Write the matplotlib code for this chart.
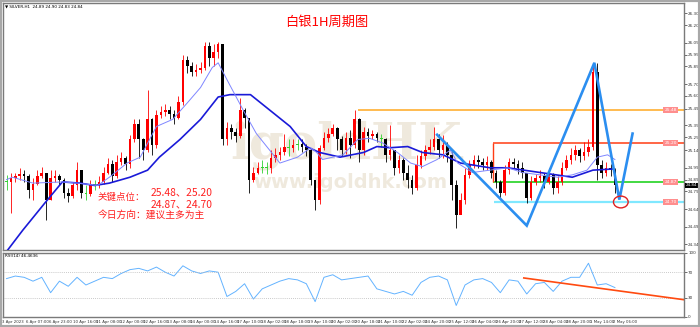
import numpy as np
import matplotlib
matplotlib.use('Agg')
import matplotlib.pyplot as plt
from matplotlib.patches import Ellipse, Rectangle

CJK = ['Noto Sans CJK SC', 'DejaVu Sans']

# 3-hour candles (hourly bar index = 3*i + 1)
close = [24.87, 24.90, 24.92, 24.94, 24.92, 24.80, 24.85, 24.92, 24.95, 24.72,
         24.90, 24.92, 24.89, 24.78, 24.75, 24.84, 24.97, 24.78, 24.77, 24.85,
         24.84, 24.87, 24.95, 25.02, 24.92, 25.04, 25.07, 25.02, 25.23, 25.36,
         25.23, 25.14, 25.40, 25.18, 25.44, 25.46, 25.48, 25.45, 25.41, 25.55,
         25.90, 25.85, 25.80, 25.82, 25.84, 26.02, 25.92, 25.97, 26.04, 25.23,
         25.33, 25.29, 25.26, 25.48, 25.41, 24.89, 24.95, 24.99, 25.00, 24.99,
         25.07, 25.10, 25.12, 25.17, 25.16, 25.18, 25.19, 25.17, 25.14, 24.89,
         24.72, 25.16, 25.24, 25.28, 25.33, 25.23, 25.14, 25.24, 25.18, 25.40,
         25.14, 25.29, 25.26, 25.28, 25.24, 25.23, 25.10, 25.14, 24.99, 25.06,
         24.95, 24.89, 24.82, 25.01, 25.09, 25.14, 25.17, 25.23, 25.14, 25.18,
         25.10, 24.84, 24.59, 24.72, 24.93, 25.01, 25.06, 25.04, 25.01, 25.04,
         24.95, 24.87, 24.78, 24.97, 25.04, 25.02, 24.99, 24.95, 24.73, 24.87,
         24.90, 24.92, 24.87, 24.94, 24.82, 24.87, 24.99, 25.06, 25.10, 25.14,
         25.09, 25.12, 25.17, 25.80, 25.01, 24.95, 24.99, 24.97, 24.84]
high = [24.93, 24.95, 24.95, 24.99, 24.97, 24.94, 24.90, 24.97, 25.00, 24.95,
        24.97, 24.97, 24.94, 24.90, 24.82, 24.87, 25.04, 24.97, 24.84, 24.89,
        24.89, 24.92, 25.00, 25.07, 25.06, 25.10, 25.12, 25.09, 25.27, 25.40,
        25.40, 25.24, 25.65, 25.41, 25.48, 25.51, 25.53, 25.51, 25.48, 25.60,
        25.95, 25.94, 25.89, 25.87, 25.89, 26.06, 26.06, 26.04, 26.06, 26.04,
        25.38, 25.36, 25.33, 25.58, 25.50, 25.41, 25.00, 25.04, 25.06, 25.04,
        25.14, 25.16, 25.17, 25.28, 25.23, 25.23, 25.23, 25.23, 25.19, 25.14,
        24.89, 25.18, 25.29, 25.33, 25.36, 25.34, 25.26, 25.29, 25.31, 25.48,
        25.41, 25.34, 25.33, 25.31, 25.29, 25.28, 25.24, 25.35, 25.14, 25.10,
        25.07, 25.01, 24.93, 25.10, 25.14, 25.18, 25.23, 25.34, 25.28, 25.27,
        25.21, 25.12, 24.89, 24.78, 24.99, 25.06, 25.10, 25.10, 25.07, 25.09,
        25.06, 24.97, 24.89, 25.01, 25.07, 25.07, 25.06, 25.04, 24.95, 24.92,
        24.94, 24.97, 24.95, 24.99, 24.95, 24.92, 25.04, 25.10, 25.16, 25.18,
        25.16, 25.21, 25.23, 25.85, 25.88, 25.06, 25.04, 25.02, 24.99]
low = [24.80, 24.61, 24.87, 24.89, 24.87, 24.73, 24.72, 24.84, 24.90, 24.55,
       24.72, 24.87, 24.84, 24.73, 24.70, 24.73, 24.80, 24.73, 24.72, 24.75,
       24.80, 24.82, 24.85, 24.94, 24.87, 24.90, 25.01, 24.97, 24.99, 25.21,
       25.07, 25.06, 25.12, 25.10, 25.16, 25.41, 25.43, 25.40, 25.36, 25.40,
       25.52, 25.79, 25.77, 25.77, 25.79, 25.82, 25.85, 25.85, 25.92, 25.18,
       25.18, 25.23, 25.21, 25.24, 25.33, 24.78, 24.87, 24.94, 24.95, 24.94,
       24.95, 25.04, 25.06, 25.10, 25.09, 25.12, 25.14, 25.12, 25.09, 24.84,
       24.63, 24.68, 25.14, 25.21, 25.26, 25.14, 25.09, 25.11, 25.07, 25.16,
       25.04, 25.10, 25.21, 25.23, 25.21, 25.17, 25.04, 25.06, 24.93, 24.95,
       24.89, 24.82, 24.77, 24.80, 24.99, 25.06, 25.11, 25.14, 25.07, 25.07,
       25.04, 24.72, 24.48, 24.63, 24.68, 24.90, 24.99, 24.99, 24.97, 24.97,
       24.90, 24.82, 24.73, 24.76, 24.94, 24.99, 24.94, 24.90, 24.69, 24.72,
       24.84, 24.87, 24.82, 24.85, 24.77, 24.78, 24.84, 24.97, 25.02, 25.06,
       25.04, 25.06, 25.09, 25.14, 24.89, 24.90, 24.92, 24.92, 24.78]
first_open = 24.88

# moving averages (hour bar, price)
ma_slow_bar = [1, 12, 27, 39, 51, 61, 71, 85, 97, 105, 119, 133, 145, 153, 167, 180, 194,
               205, 214, 228, 244, 253, 262, 274, 284, 298, 310, 330, 342, 364, 386, 400, 414]
ma_slow = [24.28, 24.46, 24.69, 24.87, 24.86, 24.84, 24.86, 24.91, 24.97, 25.08, 25.23,
           25.40, 25.59, 25.61, 25.61, 25.48, 25.34, 25.17, 25.12, 25.08, 25.12, 25.17,
           25.16, 25.17, 25.12, 25.10, 25.03, 24.99, 24.99, 24.95, 24.91, 24.97, 24.98]
ma_fast_bar = [1, 5, 19, 39, 49, 63, 71, 83, 92, 103, 114, 124, 133, 141, 145, 153, 162,
               171, 180, 187, 199, 208, 212, 216, 230, 240, 248, 257, 267, 276, 284, 294,
               303, 308, 318, 330, 342, 352, 364, 376, 386, 396, 403, 410, 415]
ma_fast = [24.89, 24.91, 24.86, 24.87, 24.86, 24.84, 24.91, 25.03, 25.08, 25.34, 25.40,
           25.54, 25.67, 25.84, 25.88, 25.69, 25.48, 25.28, 25.14, 25.03, 25.08, 25.16,
           25.12, 25.06, 25.10, 25.23, 25.24, 25.20, 25.12, 25.03, 25.00, 25.06, 25.14,
           25.03, 24.95, 24.97, 24.99, 24.95, 24.93, 24.91, 24.93, 24.97, 25.08, 25.10,
           25.06]

# RSI(14), every second candle
rsi = [60, 64, 62, 56, 62, 38, 56, 48, 62, 50,
       56, 62, 60, 68, 74, 76, 72, 78, 70, 64,
       80, 72, 68, 72, 70, 32, 40, 52, 28, 44,
       50, 56, 60, 58, 52, 24, 62, 66, 58, 60,
       62, 64, 44, 40, 36, 40, 34, 54, 62, 64,
       58, 18, 50, 58, 60, 54, 38, 58, 56, 36,
       52, 54, 40, 56, 62, 62, 84, 50, 52, 46]

# drawn objects
levels = [25.48, 25.20, 24.87, 24.70]
level_start = [240, 332, 332, 333]
level_colors = ['#ffa820', '#ff3c14', '#10d010', '#80e8ff']
wave_bar = [294, 355, 401, 418, 427]
wave_price = [25.27, 24.50, 25.88, 24.72, 25.28]
rsi_trend_bar = [353, 462]
rsi_trend = [61, 27]

price_ticks = [26.30, 26.20, 26.05, 25.95, 25.85, 25.70, 25.60, 25.49, 25.35, 25.25,
               25.14, 24.99, 24.89, 24.79, 24.64, 24.49, 24.34]
time_labels = ['3 Apr 2023', '6 Apr 07:00', '6 Apr 23:00', '10 Apr 16:00', '11 Apr 08:00',
               '12 Apr 00:00', '12 Apr 16:00', '13 Apr 08:00', '14 Apr 00:00', '14 Apr 16:00',
               '17 Apr 10:00', '18 Apr 02:00', '18 Apr 18:00', '19 Apr 10:00', '20 Apr 02:00',
               '20 Apr 18:00', '21 Apr 10:00', '22 Apr 02:00', '24 Apr 20:00', '25 Apr 12:00',
               '26 Apr 04:00', '26 Apr 20:00', '27 Apr 12:00', '28 Apr 04:00', '28 Apr 20:00',
               '1 May 14:00', '2 May 06:00']

W, H = 700, 327
fig = plt.figure(figsize=(7.0, 3.27), dpi=100)
fig.patch.set_facecolor('white')

ax = fig.add_axes([3 / W, 1 - 250 / H, 681 / W, 247 / H])
ax2 = fig.add_axes([3 / W, 1 - 317 / H, 681 / W, 64 / H])

xlim = (-1.4, 462)
for a in (ax, ax2):
    a.set_xlim(*xlim)
    a.set_facecolor('white')
    for s in a.spines.values():
        s.set_color('#7a7a7a')
        s.set_linewidth(1.0)
    a.tick_params(axis='x', bottom=False, labelbottom=False)
    a.yaxis.tick_right()
    a.tick_params(axis='y', length=2, width=0.5, colors='#333333', labelsize=3.0, pad=1)
ax.set_ylim(24.293, 26.387)

# watermark
ax.text(0.333, 0.37, 'igoldHK', transform=ax.transAxes, fontsize=36, family='DejaVu Serif',
        fontweight='bold', color='#efe9dd', zorder=0)
ax.text(0.368, 0.25, 'www.igoldhk.com', transform=ax.transAxes, fontsize=14,
        fontweight='bold', color='#efe9dd', zorder=0)

# candles
opens = [first_open] + close[:-1]
bars = np.arange(len(close)) * 3 + 1
for b, o, c, h, l in zip(bars, opens, close, high, low):
    if abs(c - o) < 0.012:
        col = '#30d030'
    elif c > o:
        col = '#ff0000'
    else:
        col = '#000000'
    ax.vlines(b, l, h, color=col, lw=0.6, zorder=3)
    ax.bar(b, max(abs(c - o), 0.006), bottom=min(o, c), width=1.8, color=col,
           linewidth=0, zorder=3)

ax.plot(ma_slow_bar, ma_slow, color='#1a1ad8', lw=1.2, zorder=4)
ax.plot(ma_fast_bar, ma_fast, color='#7f86ff', lw=0.7, zorder=4)

for p, s, col in zip(levels, level_start, level_colors):
    ax.hlines(p, s, xlim[1], color=col, lw=1.6 if p == 24.70 else 1.1, zorder=2)
    ax.text(453, p, f'{p:.2f}', fontsize=3.2, color='white', ha='center', va='center',
            zorder=6, bbox=dict(boxstyle='square,pad=0.25', fc='#ff8e8e', ec='none'))
ax.vlines(level_start[1], levels[2], levels[1], color=level_colors[1], lw=1.0, zorder=2)

ax.plot(wave_bar, wave_price, color='#2b8ef0', lw=1.9, zorder=5, solid_joinstyle='miter')
ax.add_patch(Ellipse((419, 24.70), 10, 0.10, fill=False, ec='#e02020', lw=1.0, zorder=6))

ax.set_yticks(price_ticks)
ax.set_yticklabels([f'{t:.2f}' for t in price_ticks])
ax.text(1.002, 24.84, '24.84', transform=ax.get_yaxis_transform(), fontsize=3.0,
        color='white', ha='left', va='center', zorder=7, clip_on=False,
        bbox=dict(boxstyle='square,pad=0.2', fc='black', ec='none'))

ax.text(0.003, 0.995, '\u25bc SILVER,H1  24.89 24.90 24.83 24.84', transform=ax.transAxes,
        fontsize=3.0, va='top', ha='left')

# RSI pane
ax2.set_ylim(0, 100)
rsi_bar = np.arange(len(rsi)) * 6 + 1
ax2.plot(rsi_bar, rsi, color='#63b3ff', lw=0.7)
for lv in (70, 30):
    ax2.axhline(lv, color='#b8b8b8', lw=0.6, ls=(0, (1, 1.5)))
ax2.plot(rsi_trend_bar, rsi_trend, color='#ff4a10', lw=1.2)
ax2.set_yticks([100, 70, 30, 0])
ax2.set_yticklabels(['100', '70', '30', '0'])
ax2.text(0.003, 0.98, 'RSI(14) 46.4636', transform=ax2.transAxes, fontsize=3.0,
         va='top', ha='left')

for k, lab in enumerate(time_labels):
    ax2.text(16 * k - 2, -4, lab, fontsize=2.8, ha='left', va='top', clip_on=False,
             color='#333333')

# texts
fig.text(327 / W, 1 - 22 / H, '白银1H周期图', fontsize=9.5, color='#ff0000',
         ha='center', va='center', family=CJK)
fig.text(98 / W, 1 - 197 / H, '关键点位：', fontsize=6.8, color='#ff2020',
         ha='left', va='center', family=CJK)
fig.text(151 / W, 1 - 192 / H, '25.48、25.20', fontsize=7.4, color='#ff2020',
         ha='left', va='center', family=CJK)
fig.text(151 / W, 1 - 204 / H, '24.87、24.70', fontsize=7.4, color='#ff2020',
         ha='left', va='center', family=CJK)
fig.text(98 / W, 1 - 215 / H, '今日方向：建议主多为主', fontsize=7.0, color='#ff2020',
         ha='left', va='center', family=CJK)

fig.patches.append(Rectangle((0, 0), 1, 1, transform=fig.transFigure, fill=False,
                             ec='#a8a8a8', lw=3))

fig.savefig('out.png', dpi=100, facecolor='white')
